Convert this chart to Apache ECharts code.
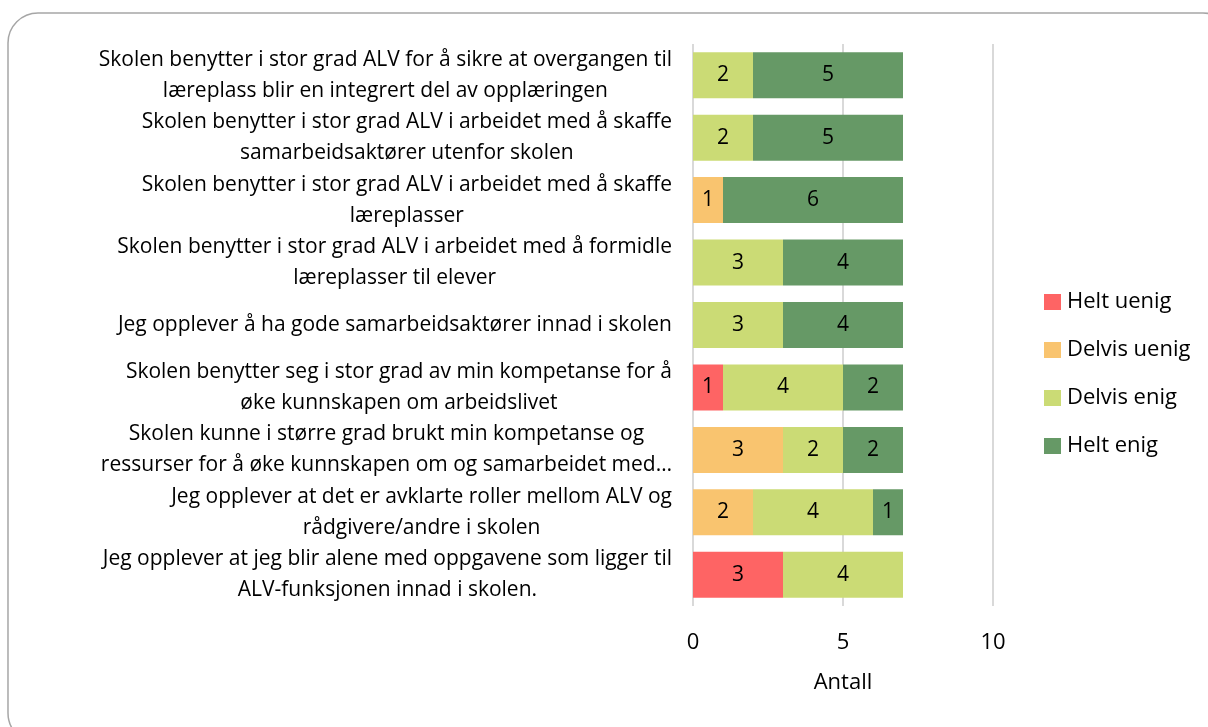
<!DOCTYPE html>
<html>
<head>
<meta charset="utf-8">
<script src="https://cdn.jsdelivr.net/npm/echarts@6/dist/echarts.min.js"></script>
<style>
html, body { margin: 0; padding: 0; background: #fff; }
#main { width: 1208px; height: 727px; }
</style>
</head>
<body>
<div id="main"></div>
<script>
// kategorier, ovenfra og ned
var categories = [
    'Skolen benytter i stor grad ALV for å sikre at overgangen til\nlæreplass blir en integrert del av opplæringen',
    'Skolen benytter i stor grad ALV i arbeidet med å skaffe\nsamarbeidsaktører utenfor skolen',
    'Skolen benytter i stor grad ALV i arbeidet med å skaffe\nlæreplasser',
    'Skolen benytter i stor grad ALV i arbeidet med å formidle\nlæreplasser til elever',
    'Jeg opplever å ha gode samarbeidsaktører innad i skolen',
    'Skolen benytter seg i stor grad av min kompetanse for å\nøke kunnskapen om arbeidslivet',
    'Skolen kunne i større grad brukt min kompetanse og\nressurser for å øke kunnskapen om og samarbeidet med…',
    'Jeg opplever at det er avklarte roller mellom ALV og\nrådgivere/andre i skolen',
    'Jeg opplever at jeg blir alene med oppgavene som ligger til\nALV-funksjonen innad i skolen.'
];
var heltUenig   = [0, 0, 0, 0, 0, 1, 0, 0, 3];
var delvisUenig = [0, 0, 1, 0, 0, 0, 3, 2, 0];
var delvisEnig  = [2, 2, 0, 3, 3, 4, 2, 4, 4];
var heltEnig    = [5, 5, 6, 4, 4, 2, 2, 1, 0];
var xTicks = [0, 5, 10];

var font = 'Open Sans';
var myChart = echarts.init(document.getElementById('main'));

function serie(name, data, color) {
    return {
        name: name,
        type: 'bar',
        stack: 'tot',
        barWidth: 46,
        data: data,
        itemStyle: { color: color },
        label: {
            show: true,
            position: 'inside',
            color: '#000',
            fontFamily: font,
            fontSize: 21,
            formatter: function (p) { return p.value ? String(p.value) : ''; }
        }
    };
}

var option = {
    animation: false,
    textStyle: { fontFamily: font },
    graphic: [{
        type: 'rect',
        shape: { x: 8, y: 13, width: 1225, height: 730, r: 30 },
        style: { fill: 'none', stroke: '#a6a6a6', lineWidth: 1.5 },
        silent: true
    }],
    grid: { left: 693, right: 215, top: 44, bottom: 121 },
    legend: {
        orient: 'vertical',
        left: 1039,
        top: 286,
        icon: 'rect',
        itemWidth: 17,
        itemHeight: 16,
        itemGap: 26,
        textStyle: { fontFamily: font, fontSize: 22, color: '#000', padding: [0, 0, 0, 1] },
        data: ['Helt uenig', 'Delvis uenig', 'Delvis enig', 'Helt enig']
    },
    xAxis: {
        type: 'value',
        min: xTicks[0],
        max: xTicks[xTicks.length - 1],
        interval: 5,
        name: 'Antall',
        nameLocation: 'middle',
        nameGap: 66,
        nameTextStyle: { fontFamily: font, fontSize: 22, color: '#000' },
        axisLine: { show: false },
        axisTick: { show: false },
        axisLabel: { margin: 26, fontFamily: font, fontSize: 22, color: '#000' },
        splitLine: { lineStyle: { color: '#d9d9d9', width: 2 } }
    },
    yAxis: {
        type: 'category',
        inverse: true,
        data: categories,
        axisLine: { show: false },
        axisTick: { show: false },
        axisLabel: {
            margin: 21,
            align: 'right',
            lineHeight: 31,
            fontFamily: font,
            fontSize: 21,
            color: '#000',
            formatter: function (v) {
                return v.split('\n').map(function (l) { return '{c|' + l + '}'; }).join('\n');
            },
            rich: {
                c: { align: 'center', fontFamily: font, fontSize: 21, lineHeight: 31, color: '#000' }
            }
        }
    },
    series: [
        serie('Helt uenig', heltUenig, '#fe6464'),
        serie('Delvis uenig', delvisUenig, '#f9c46f'),
        serie('Delvis enig', delvisEnig, '#cbdb75'),
        serie('Helt enig', heltEnig, '#669966')
    ]
};
myChart.setOption(option);
</script>
</body>
</html>
